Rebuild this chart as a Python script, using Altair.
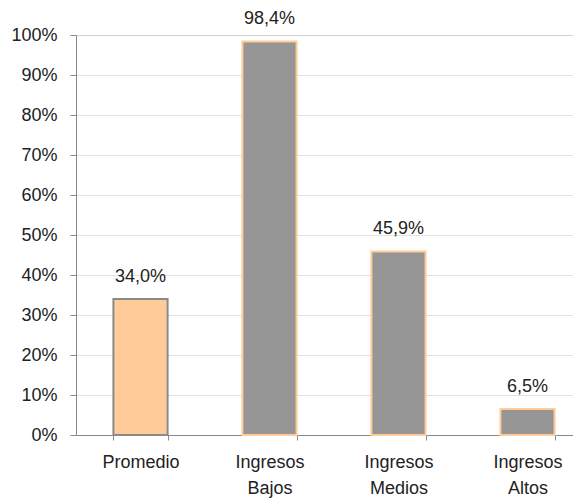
import altair as alt
import pandas as pd

categories = ["Promedio", "Ingresos Bajos", "Ingresos Medios", "Ingresos Altos"]
values = [0.340, 0.984, 0.459, 0.065]
value_labels = ["34,0%", "98,4%", "45,9%", "6,5%"]
groups = ["avg", "inc", "inc", "inc"]
y_ticks = [0.0, 0.1, 0.2, 0.3, 0.4, 0.5, 0.6, 0.7, 0.8, 0.9, 1.0]

df = pd.DataFrame({"cat": categories, "val": values, "lab": value_labels, "grp": groups})

FONT = "Liberation Sans"

xenc = alt.X("cat:N", sort=categories, title=None,
             scale=alt.Scale(range=[0, 516], paddingInner=0.58, paddingOuter=0.29),
             axis=alt.Axis(labelAngle=0, labelExpr="split(datum.label, ' ')",
                           labelFont=FONT, labelFontSize=18, labelColor="#222",
                           labelLineHeight=26, labelPadding=13,
                           domainColor="#888", tickColor="#888", tickSize=5,
                           tickBand="extent", grid=False, labelBaseline="top"))

yenc = alt.Y("val:Q", title=None,
             scale=alt.Scale(domain=[0, 1], nice=False),
             axis=alt.Axis(values=y_ticks, format=".0%",
                           labelOverlap=False,
                           labelFont=FONT, labelFontSize=18, labelColor="#222",
                           labelPadding=13,
                           domainColor="#888", tickColor="#888", tickSize=6,
                           gridColor="#c4c4c4", gridDash=[1, 1], gridWidth=1))

base = alt.Chart(df).encode(x=xenc, y=yenc)

bars = base.mark_bar(strokeWidth=2).encode(
    fill=alt.Fill("grp:N", scale=alt.Scale(domain=["avg", "inc"], range=["#FFCC99", "#969696"]), legend=None),
    stroke=alt.Stroke("grp:N", scale=alt.Scale(domain=["avg", "inc"], range=["#8a8a8a", "#FFCC99"]), legend=None),
)

text = base.mark_text(font=FONT, fontSize=18, color="#222", dy=-17, baseline="alphabetic").encode(
    text="lab:N",
)

chart = (bars + text).properties(
    width=497, height=400,
    padding={"left": 68, "top": 27, "right": 0, "bottom": 63},
    autosize=alt.AutoSizeParams(type="none"),
).configure_view(stroke=None).configure(background="white")

chart.save("out.html", embed_options={"renderer": "svg", "actions": False})
